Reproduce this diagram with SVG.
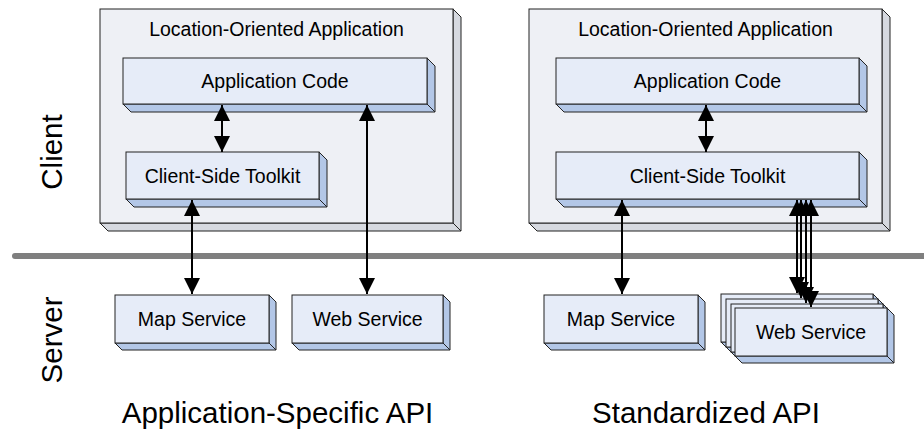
<svg xmlns="http://www.w3.org/2000/svg" width="924" height="429" viewBox="0 0 924 429">
  <style>
    text { font-family: "Liberation Sans", Arial, sans-serif; fill: #000; }
    .lbl { font-size: 19.5px; text-anchor: middle; }
    .big { font-size: 29.5px; text-anchor: middle; }
    .front { stroke: #222; stroke-width: 1; }
    .side { stroke: #222; stroke-width: 1; stroke-linejoin: round; }
    .outer .front { fill: #EEF0F5; }
    .outer .side { fill: #D6D9E0; }
    .inner .front { fill: #E6ECF8; }
    .inner .side { fill: #B3C7E7; }
    .conn { stroke: #000; stroke-width: 2; fill: none; marker-start: url(#head); marker-end: url(#head); }
  </style>
  <defs>
    <marker id="head" markerUnits="userSpaceOnUse" markerWidth="17" markerHeight="17" refX="16" refY="8" orient="auto-start-reverse">
      <path d="M0,0 L16,8 L0,16 Z" fill="#000"/>
    </marker>
  </defs>

  <rect width="924" height="429" fill="#fff"/>

  <!-- tier labels -->
  <text class="big" transform="translate(62,152) rotate(-90)">Client</text>
  <text class="big" transform="translate(62,340) rotate(-90)">Server</text>

  <!-- client / server divider -->
  <line x1="15" y1="256" x2="930" y2="256" stroke="#7F7F7F" stroke-width="6" stroke-linecap="round"/>

  <!-- left: application-specific API -->
  <g id="app-left" class="outer">
    <polygon class="side" points="100,223 108,231 461,231 453,223"/>
    <polygon class="side" points="453,9 461,17 461,231 453,223"/>
    <rect class="front" x="100" y="9" width="353" height="214"/>
    <text class="lbl" x="276.5" y="36">Location-Oriented Application</text>
  </g>
  <g id="code-left" class="inner">
    <polygon class="side" points="123,104 131,112 435,112 427,104"/>
    <polygon class="side" points="427,58 435,66 435,112 427,104"/>
    <rect class="front" x="123" y="58" width="304" height="46"/>
    <text class="lbl" x="275" y="88">Application Code</text>
  </g>
  <g id="toolkit-left" class="inner">
    <polygon class="side" points="126,199 134,207 327,207 319,199"/>
    <polygon class="side" points="319,152 327,160 327,207 319,199"/>
    <rect class="front" x="126" y="152" width="193" height="47"/>
    <text class="lbl" x="222.5" y="182.5">Client-Side Toolkit</text>
  </g>
  <g id="map-left" class="inner">
    <polygon class="side" points="115,343 122,350 276,350 269,343"/>
    <polygon class="side" points="269,295 276,302 276,350 269,343"/>
    <rect class="front" x="115" y="295" width="154" height="48"/>
    <text class="lbl" x="192" y="326">Map Service</text>
  </g>
  <g id="web-left" class="inner">
    <polygon class="side" points="292,343 299,350 450,350 443,343"/>
    <polygon class="side" points="443,295 450,302 450,350 443,343"/>
    <rect class="front" x="292" y="295" width="151" height="48"/>
    <text class="lbl" x="367.5" y="326">Web Service</text>
  </g>
  <text class="big" x="277.5" y="423">Application-Specific API</text>

  <!-- right: standardized API -->
  <g id="app-right" class="outer">
    <polygon class="side" points="529,223 537,231 890,231 882,223"/>
    <polygon class="side" points="882,9 890,17 890,231 882,223"/>
    <rect class="front" x="529" y="9" width="353" height="214"/>
    <text class="lbl" x="705.5" y="36">Location-Oriented Application</text>
  </g>
  <g id="code-right" class="inner">
    <polygon class="side" points="556,104 564,112 867,112 859,104"/>
    <polygon class="side" points="859,58 867,66 867,112 859,104"/>
    <rect class="front" x="556" y="58" width="303" height="46"/>
    <text class="lbl" x="707.5" y="88">Application Code</text>
  </g>
  <g id="toolkit-right" class="inner">
    <polygon class="side" points="556,199 564,207 867,207 859,199"/>
    <polygon class="side" points="859,152 867,160 867,207 859,199"/>
    <rect class="front" x="556" y="152" width="303" height="47"/>
    <text class="lbl" x="707.5" y="182.5">Client-Side Toolkit</text>
  </g>
  <g id="map-right" class="inner">
    <polygon class="side" points="544,343 551,350 705,350 698,343"/>
    <polygon class="side" points="698,295 705,302 705,350 698,343"/>
    <rect class="front" x="544" y="295" width="154" height="48"/>
    <text class="lbl" x="621" y="326">Map Service</text>
  </g>
  <g id="web-right" class="inner">
    <g transform="translate(721,294)">
      <polygon class="side" points="0,48 7,55 159,55 152,48"/>
      <polygon class="side" points="152,0 159,7 159,55 152,48"/>
      <rect class="front" width="152" height="48"/>
    </g>
    <g transform="translate(726,299)">
      <polygon class="side" points="0,48 7,55 159,55 152,48"/>
      <polygon class="side" points="152,0 159,7 159,55 152,48"/>
      <rect class="front" width="152" height="48"/>
    </g>
    <g transform="translate(731,304)">
      <polygon class="side" points="0,48 7,55 159,55 152,48"/>
      <polygon class="side" points="152,0 159,7 159,55 152,48"/>
      <rect class="front" width="152" height="48"/>
    </g>
    <g transform="translate(735,308)">
      <polygon class="side" points="0,48 7,55 159,55 152,48"/>
      <polygon class="side" points="152,0 159,7 159,55 152,48"/>
      <rect class="front" width="152" height="48"/>
    </g>
    <text class="lbl" x="811" y="339">Web Service</text>
  </g>
  <text class="big" x="706" y="423">Standardized API</text>

  <!-- connectors -->
  <g id="connectors">
    <line class="conn" x1="222" y1="105" x2="222" y2="152"/>
    <line class="conn" x1="192" y1="200" x2="192" y2="294"/>
    <line class="conn" x1="367" y1="105" x2="367" y2="294"/>
    <line class="conn" x1="706" y1="105" x2="706" y2="152"/>
    <line class="conn" x1="622" y1="200" x2="622" y2="294"/>
    <line class="conn" x1="797" y1="200" x2="797" y2="293"/>
    <line class="conn" x1="801" y1="200" x2="801" y2="298"/>
    <line class="conn" x1="806" y1="200" x2="806" y2="303"/>
    <line class="conn" x1="811" y1="200" x2="811" y2="307"/>
  </g>
</svg>
